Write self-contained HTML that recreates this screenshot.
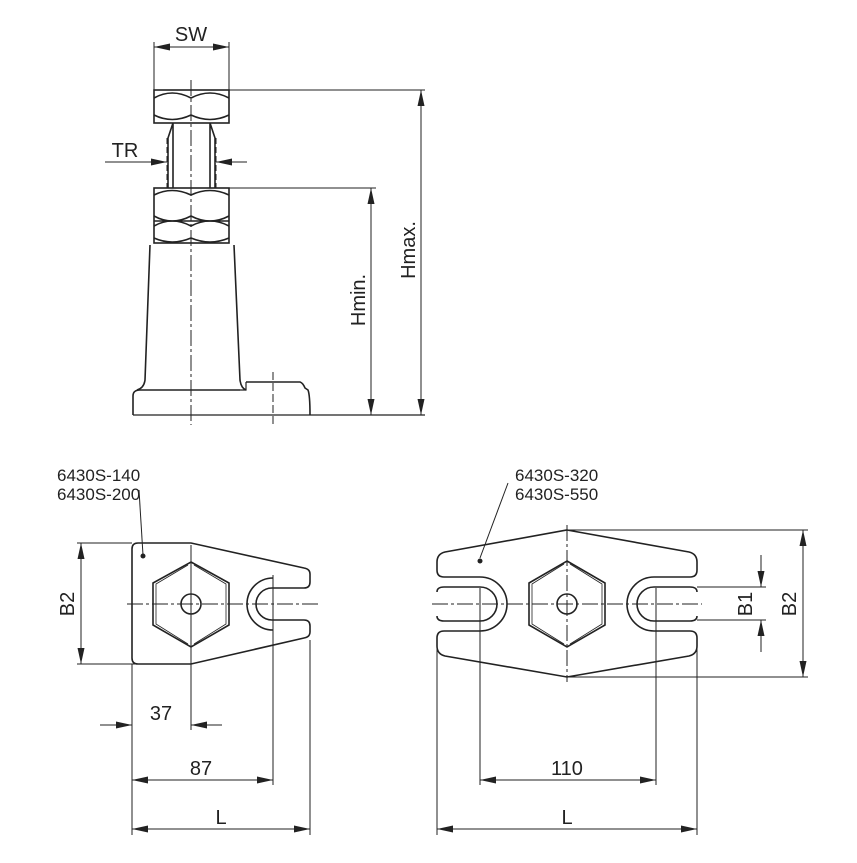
<!DOCTYPE html>
<html><head><style>body{margin:0;background:#fff}svg{display:block}text{font-family:"Liberation Sans",sans-serif;fill:#222}</style></head><body>
<svg width="857" height="863" viewBox="0 0 857 863" xmlns="http://www.w3.org/2000/svg">
<defs>
<marker id="a" viewBox="0 0 16 7" refX="16" refY="3.5" markerWidth="16" markerHeight="7" orient="auto" markerUnits="userSpaceOnUse"><path d="M0,0L16,3.5L0,7z" fill="#222"/></marker>
<marker id="b" viewBox="0 0 16 7" refX="0" refY="3.5" markerWidth="16" markerHeight="7" orient="auto" markerUnits="userSpaceOnUse"><path d="M16,0L0,3.5L16,7z" fill="#222"/></marker>
</defs>
<g fill="none" stroke="#222" stroke-width="1.6">
<rect x="154" y="90" width="75" height="33"/>
<path d="M154,98 Q172,88 191,98 Q210,88 229,98 M154,115 Q172,124 191,115 Q210,124 229,115"/>
<path d="M173,123 L168,138 L168,188 M210,123 L215,138 L215,188 M173,123 V188 M210,123 V188"/>
<rect x="154" y="188" width="75" height="55"/>
<line x1="154" y1="221" x2="229" y2="221"/>
<path d="M154,195 Q172,186 191,195 Q210,186 229,195 M154,216 Q172,226 191,216 Q210,226 229,216 M154,226 Q172,216 191,226 Q210,216 229,226 M154,238 Q172,246 191,238 Q210,246 229,238"/>
<path d="M150,245 L145,380 Q144,388 137,390 M234,245 L240,380 Q241,388 246,390"/>
<path d="M133,415 L133,396 Q133,390 140,390 L240,390 M246,382 L300,382 Q303,383 305,388 L308,390 Q310,395 310,415"/>
<line x1="133" y1="415" x2="425" y2="415" stroke-width="1.2"/>
<path d="M240,390 L246,390 L246,382" stroke-width="1.2"/>
</g>
<g fill="none" stroke="#222" stroke-width="1">
<line x1="191" y1="80" x2="191" y2="425" stroke-dasharray="16,3,3,3"/>
<line x1="273" y1="372" x2="273" y2="425" stroke-dasharray="8,3"/>
<line x1="167" y1="138" x2="167" y2="188" stroke-dasharray="6,3"/>
<line x1="216" y1="138" x2="216" y2="188" stroke-dasharray="6,3"/>
<line x1="154" y1="42" x2="154" y2="90"/><line x1="229" y1="42" x2="229" y2="90"/>
<line x1="154" y1="47" x2="229" y2="47" marker-start="url(#b)" marker-end="url(#a)"/>
<line x1="105" y1="162" x2="167" y2="162" marker-end="url(#a)"/>
<line x1="247" y1="162" x2="216" y2="162" marker-end="url(#a)"/>
<line x1="229" y1="90" x2="425" y2="90"/>
<line x1="229" y1="188" x2="376" y2="188"/>
<line x1="371" y1="188" x2="371" y2="415" marker-start="url(#b)" marker-end="url(#a)"/>
<line x1="421" y1="90" x2="421" y2="415" marker-start="url(#b)" marker-end="url(#a)"/>
</g>
<text x="191" y="41" font-size="20" text-anchor="middle">SW</text>
<text x="125" y="157" font-size="20" text-anchor="middle">TR</text>
<text transform="translate(365,300) rotate(-90)" font-size="20" text-anchor="middle">Hmin.</text>
<text transform="translate(415,250) rotate(-90)" font-size="20" text-anchor="middle">Hmax.</text>

<g fill="none" stroke="#222" stroke-width="1.6">
<path d="M138,543 L191,543 L304,568 Q310,569 310,574 L310,582 Q310,588 304,588 L272,588 A16,16 0 0 0 272,620 L304,620 Q310,620 310,626 L310,632 Q310,637 304,638 L191,664 L138,664 Q132,664 132,658 L132,549 Q132,543 138,543 Z"/>
<path d="M273,578 A26,26 0 0 0 273,630"/>
<path d="M191,562 L229,583 L229,625 L191,647 L153,625 L153,583 Z"/>
<path d="M194,565 L226,584 L226,624 L194,644 M188,565 L156,584 L156,624 L188,644" stroke-width="0.8"/>
<circle cx="191" cy="604" r="10"/>
</g>
<g fill="none" stroke="#222" stroke-width="1">
<line x1="127" y1="604" x2="318" y2="604" stroke-dasharray="16,3,3,3"/>
<line x1="191" y1="545" x2="191" y2="730"/>
<line x1="77" y1="543" x2="132" y2="543"/><line x1="77" y1="664" x2="191" y2="664"/>
<line x1="81" y1="543" x2="81" y2="664" marker-start="url(#b)" marker-end="url(#a)"/>
<line x1="132" y1="664" x2="132" y2="835"/>
<line x1="273" y1="575" x2="273" y2="785"/>
<line x1="310" y1="640" x2="310" y2="835"/>
<line x1="100" y1="725" x2="132" y2="725" marker-end="url(#a)"/>
<line x1="222" y1="725" x2="191" y2="725" marker-end="url(#a)"/>
<line x1="132" y1="780" x2="273" y2="780" marker-start="url(#b)" marker-end="url(#a)"/>
<line x1="132" y1="829" x2="310" y2="829" marker-start="url(#b)" marker-end="url(#a)"/>
<line x1="139" y1="490" x2="143" y2="555"/>
</g>
<circle cx="143" cy="556" r="2.5" fill="#222"/>
<text x="57" y="481" font-size="17">6430S-140</text>
<text x="57" y="500" font-size="17">6430S-200</text>
<text transform="translate(74,604) rotate(-90)" font-size="20" text-anchor="middle">B2</text>
<text x="161" y="720" font-size="20" text-anchor="middle">37</text>
<text x="201" y="775" font-size="20" text-anchor="middle">87</text>
<text x="221" y="824" font-size="20" text-anchor="middle">L</text>

<g fill="none" stroke="#222" stroke-width="1.6">
<path d="M567,530 L689,552 Q697,554 697,562 L697,570 Q697,577 690,577 L654,577 A27,27 0 0 0 654,631 L690,631 Q697,631 697,638 L697,646 Q697,654 689,656 L567,677 L445,656 Q437,654 437,646 L437,638 Q437,631 444,631 L480,631 A27,27 0 0 0 480,577 L444,577 Q437,577 437,570 L437,562 Q437,554 445,552 Z"/>
<path d="M444,587 L480,587 A17,17 0 0 1 480,621 L444,621 Q437,621 437,616 M444,587 Q437,587 437,592"/>
<path d="M690,587 L654,587 A17,17 0 0 0 654,621 L690,621 Q697,621 697,616 M690,587 Q697,587 697,592"/>
<path d="M567,561 L605,583 L605,625 L567,647 L529,625 L529,583 Z"/>
<path d="M570,564 L602,584 L602,624 L570,644 M564,564 L532,584 L532,624 L564,644" stroke-width="0.8"/>
<circle cx="567" cy="604" r="10"/>
</g>
<g fill="none" stroke="#222" stroke-width="1">
<line x1="432" y1="604" x2="702" y2="604" stroke-dasharray="16,3,3,3"/>
<line x1="567" y1="525" x2="567" y2="682" stroke-dasharray="16,3,3,3"/>
<line x1="567" y1="530" x2="808" y2="530"/><line x1="567" y1="677" x2="808" y2="677"/>
<line x1="803" y1="530" x2="803" y2="677" marker-start="url(#b)" marker-end="url(#a)"/>
<line x1="697" y1="587" x2="766" y2="587"/><line x1="697" y1="620" x2="766" y2="620"/>
<line x1="761" y1="555" x2="761" y2="587" marker-end="url(#a)"/>
<line x1="761" y1="652" x2="761" y2="620" marker-end="url(#a)"/>
<line x1="437" y1="640" x2="437" y2="835"/><line x1="697" y1="640" x2="697" y2="835"/>
<line x1="480" y1="588" x2="480" y2="785"/><line x1="656" y1="588" x2="656" y2="785"/>
<line x1="480" y1="780" x2="656" y2="780" marker-start="url(#b)" marker-end="url(#a)"/>
<line x1="437" y1="829" x2="697" y2="829" marker-start="url(#b)" marker-end="url(#a)"/>
<line x1="508" y1="483" x2="480" y2="558"/>
</g>
<circle cx="480" cy="561" r="2.5" fill="#222"/>
<text x="515" y="481" font-size="17">6430S-320</text>
<text x="515" y="500" font-size="17">6430S-550</text>
<text transform="translate(752,604) rotate(-90)" font-size="20" text-anchor="middle">B1</text>
<text transform="translate(796,604) rotate(-90)" font-size="20" text-anchor="middle">B2</text>
<text x="567" y="775" font-size="20" text-anchor="middle">110</text>
<text x="567" y="824" font-size="20" text-anchor="middle">L</text>
</svg>
</body></html>
